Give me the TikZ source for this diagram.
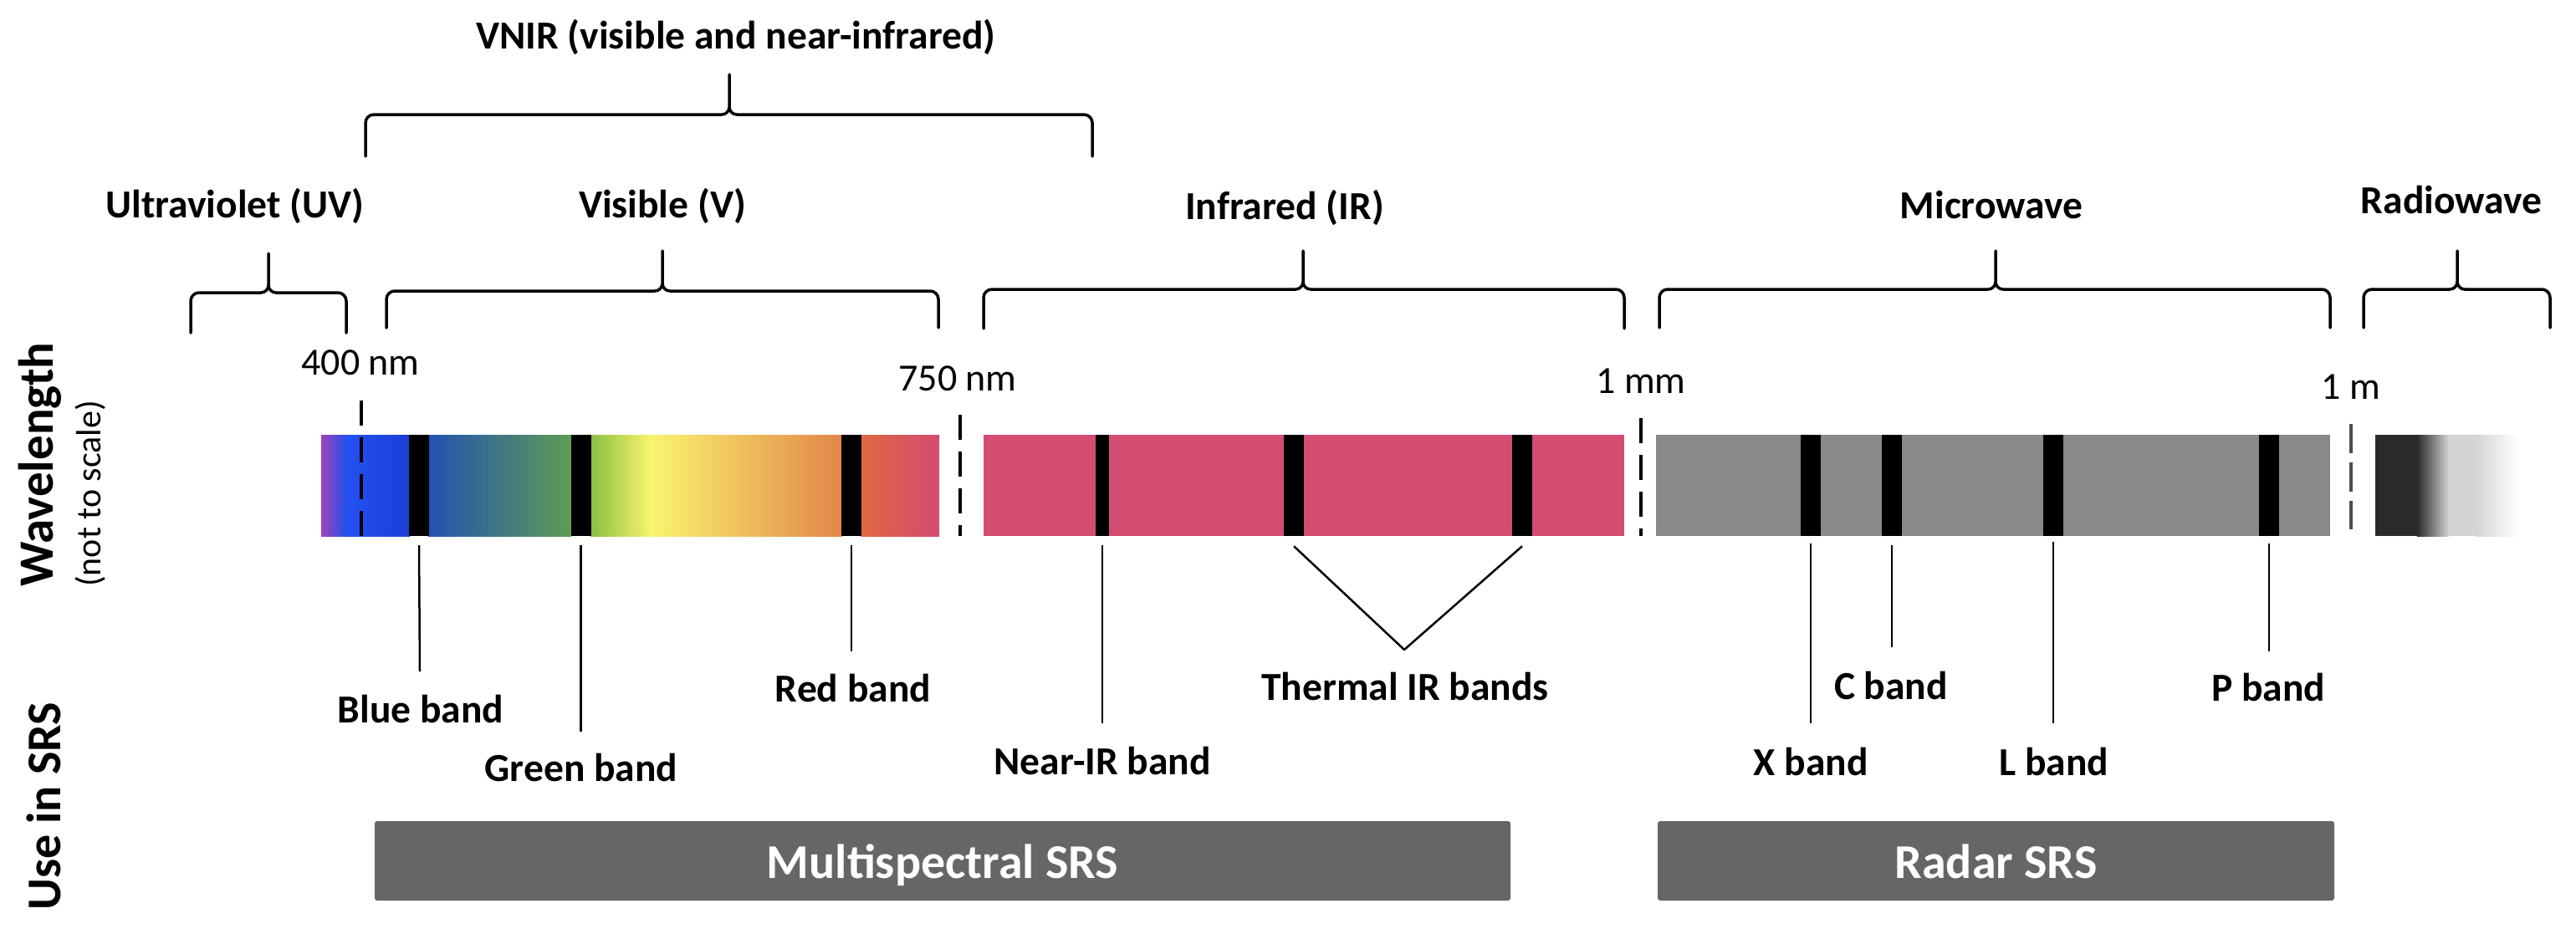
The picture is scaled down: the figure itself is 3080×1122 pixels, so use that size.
\documentclass[tikz,border=0pt]{standalone}
\usepackage{fontspec}
\setmainfont{Carlito}
\definecolor{irpink}{HTML}{D34C72}
\definecolor{mwgray}{HTML}{898989}
\definecolor{srsgray}{HTML}{666666}
\definecolor{rwdark}{HTML}{2A2A2A}
\definecolor{rwlight}{HTML}{D4D4D4}
\newcommand{\mybrace}[6]{% x1 x2 xc ytop ytip yend
  \draw[brc] (#1,#6) -- (#1,#4+10) to[out=90,in=180] (#1+10,#4) -- (#3-9,#4) to[out=0,in=-90] (#3,#4-9) -- (#3,#5);
  \draw[brc] (#3,#4-9) to[out=-90,in=180] (#3+9,#4) -- (#2-10,#4) to[out=0,in=90] (#2,#4+10) -- (#2,#6);}
\begin{document}
\begin{tikzpicture}[x=1pt,y=-1pt,
  lbl/.style={font=\fontsize{47.5}{57}\selectfont\bfseries, anchor=base, inner sep=0pt},
  num/.style={font=\fontsize{46}{55}\selectfont, anchor=base, inner sep=0pt},
  brc/.style={line width=3.5pt, line join=round, line cap=round},
  blk/.style={fill=black, draw=none, inner sep=0pt, minimum height=121pt},
  lead/.style={line width=2.5pt},
  dsh/.style={line width=4pt, dash pattern=on 30pt off 14pt},
  srs/.style={fill=srsgray, rounded corners=3pt, inner sep=0pt, minimum height=95pt,
    text=white, font=\fontsize{58}{70}\selectfont\bfseries, text height=41pt, text depth=0pt},
  vlbl/.style={rotate=90, anchor=base west, inner sep=0pt}]
\useasboundingbox[fill=white] (0,0) rectangle (3080,1122);

% ---- top labels
\node[lbl] (vnir) at (880,58) {VNIR (visible and near-infrared)};
\node[lbl] (uv) at (281,260) {Ultraviolet (UV)};
\node[lbl] (vis) at (792,260) {Visible (V)};
\node[lbl] (ir) at (1536,262) {Infrared (IR)};
\node[lbl] (mw) at (2381,261) {Microwave};
\node[lbl] (rw) at (2931,255) {Radiowave};

% ---- braces
\mybrace{437}{1306}{872}{137}{89}{187}
\mybrace{228}{414}{321}{350}{303}{398}
\mybrace{462}{1122}{792}{348}{300}{392}
\mybrace{1176}{1942}{1558}{346}{300}{393}
\mybrace{1984}{2786}{2386}{346}{300}{392}
\mybrace{2826}{3049}{2938}{346}{300}{392}

% ---- wavelength labels
\node[num] (n400) at (431,448) {400 nm};
\node[num] (n750) at (1145,467) {750 nm};
\node[num] (n1mm) at (1962,470) {1 mm};
\node[num] (n1m) at (2811,477) {1 m};

% ---- visible spectrum bar
\shade[left color={rgb,255:red,160;green,68;blue,180}, right color={rgb,255:red,47;green,78;blue,234}] (384,520) rectangle (412.5,641);
\shade[left color={rgb,255:red,36;green,82;blue,242}, middle color={rgb,255:red,33;green,78;blue,236}, right color={rgb,255:red,26;green,62;blue,214}] (412,520) rectangle (490,641);
\shade[left color={rgb,255:red,35;green,82;blue,178}, middle color={rgb,255:red,58;green,110;blue,136}, right color={rgb,255:red,94;green,156;blue,84}] (512,520) rectangle (683,641);
\shade[left color={rgb,255:red,138;green,191;blue,66}, middle color={rgb,255:red,208;green,228;blue,96}, right color={rgb,255:red,249;green,244;blue,110}] (706,520) rectangle (778.5,641);
\shade[left color={rgb,255:red,249;green,244;blue,110}, middle color={rgb,255:red,239;green,197;blue,96}, right color={rgb,255:red,226;green,134;blue,74}] (778,520) rectangle (1007,641);
\shade[left color={rgb,255:red,224;green,104;blue,63}, middle color={rgb,255:red,217;green,74;blue,66}, right color={rgb,255:red,210;green,76;blue,114}] (1029,520) rectangle (1123,641);
\node[blk, minimum width=24pt] (bBlue) at (501,580.5) {};
\node[blk, minimum width=24pt] (bGreen) at (694.5,580.5) {};
\node[blk, minimum width=24pt] (bRed) at (1018,580.5) {};

% ---- infrared bar
\fill[irpink] (1176,520) rectangle (1942,641);
\node[blk, minimum width=16pt] (bNIR) at (1318,580.5) {};
\node[blk, minimum width=24pt] (bT1) at (1547,580.5) {};
\node[blk, minimum width=24pt] (bT2) at (1820,580.5) {};

% ---- microwave bar
\fill[mwgray] (1980,520) rectangle (2786,641);
\node[blk, minimum width=24pt] (bX) at (2165,580.5) {};
\node[blk, minimum width=24pt] (bC) at (2262,580.5) {};
\node[blk, minimum width=24pt] (bL) at (2455,580.5) {};
\node[blk, minimum width=24pt] (bP) at (2713,580.5) {};

% ---- radiowave bar
\fill[rwdark] (2840,520) rectangle (2891,641);
\shade[left color=rwdark, right color=rwlight] (2890,520) rectangle (2928,641);
\fill[rwlight] (2927,520) rectangle (2961,641);
\shade[left color=rwlight, right color=white] (2960,520) rectangle (3012,641);

% ---- dashed boundaries
\draw[dsh] (432,479) -- (432,641);
\draw[dsh] (1148,496) -- (1148,641);
\draw[dsh] (1962,500) -- (1962,641);
\draw[dsh, draw={rgb,255:red,77;green,77;blue,77}, dash pattern=on 35pt off 11pt] (2811,507) -- (2811,633);

% ---- band labels
\node[lbl] (lBlue) at (503,864) {Blue band};
\node[lbl] (lGreen) at (695,934) {Green band};
\node[lbl] (lRed) at (1020,839) {Red band};
\node[lbl] (lNIR) at (1318,926) {Near-IR band};
\node[lbl] (lTIR) at (1680,837) {Thermal IR bands};
\node[lbl] (lX) at (2165,927) {X band};
\node[lbl] (lC) at (2261,836) {C band};
\node[lbl] (lL) at (2456,927) {L band};
\node[lbl] (lP) at (2712,838) {P band};

% ---- leaders
\coordinate (eBlue) at (502,803);
\coordinate (eGreen) at (694.5,875);
\coordinate (eRed) at (1018,779);
\coordinate (eNIR) at (1318,865);
\coordinate (eTIR) at (1679,777);
\coordinate (eX) at (2165,865);
\coordinate (eC) at (2262,774);
\coordinate (eL) at (2455,865);
\coordinate (eP) at (2713,779);
\draw[lead] (bBlue.south) ++(0,11) -- (eBlue);
\draw[lead] (bGreen.south) ++(0,11) -- (eGreen);
\draw[lead] (bRed.south) ++(0,11) -- (eRed);
\draw[lead] (bNIR.south) ++(0,11) -- (eNIR);
\draw[lead, line join=round] ([yshift=-12pt]bT1.south) -- (eTIR) -- ([yshift=-12pt]bT2.south);
\draw[lead] (bX.south) ++(0,9) -- (eX);
\draw[lead] (bC.south) ++(0,11) -- (eC);
\draw[lead] (bL.south) ++(0,7) -- (eL);
\draw[lead] (bP.south) ++(0,9) -- (eP);

% ---- SRS boxes
\node[srs, minimum width=1358pt] (ms) at (1127,1029.5) {Multispectral SRS};
\node[srs, minimum width=809pt] (radar) at (2386.5,1029.5) {Radar SRS};

% ---- side labels
\node[vlbl, font=\fontsize{59}{70}\selectfont\bfseries] (wl) at (63,702) {Wavelength};
\node[vlbl, font=\fontsize{42}{50}\selectfont] (nts) at (120,702) {(not to scale)};
\node[vlbl, font=\fontsize{58}{70}\selectfont\bfseries] (use) at (72,1089) {Use in SRS};
\end{tikzpicture}
\end{document}
